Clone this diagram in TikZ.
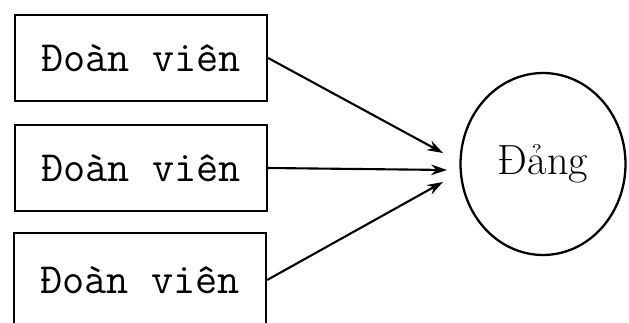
\documentclass[tikz,border=0pt]{standalone}
\usepackage{fontspec}
\usepackage{tikz}
\usetikzlibrary{arrows.meta, positioning, shapes.geometric}

\begin{document}
\begin{tikzpicture}[x=0.02cm, y=-0.02cm,
    member/.style={rectangle, draw, line width=1.3pt, minimum width=5.04cm, minimum height=1.72cm,
      font=\ttfamily\fontsize{24.5}{28}\selectfont, inner sep=2pt},
    party/.style={ellipse, draw, line width=1.3pt, minimum width=3.3cm, minimum height=3.64cm,
      font=\fontsize{24}{28}\selectfont},
    conn/.style={-{Stealth[length=9pt, width=6pt]}, line width=1.2pt}
  ]
  \useasboundingbox (0,0) rectangle (629,323);
  % === Members ===
  \node[member] (m1) at (141,58) {Đoàn viên};
  \node[member] (m2) at (141,168) {Đoàn viên};
  \node[member, minimum height=1.88cm] (m3) at (140,280) {Đoàn viên};

  % === Party ===
  \node[party] (p) at (543,164) {Đảng};
  \coordinate (e1) at (443,153);
  \coordinate (e2) at (447,170);
  \coordinate (e3) at (443,182);

  \draw[conn] (m1.east) -- (e1);
  \draw[conn] (m2.east) -- (e2);
  \draw[conn] (m3.east) -- (e3);
\end{tikzpicture}
\end{document}
